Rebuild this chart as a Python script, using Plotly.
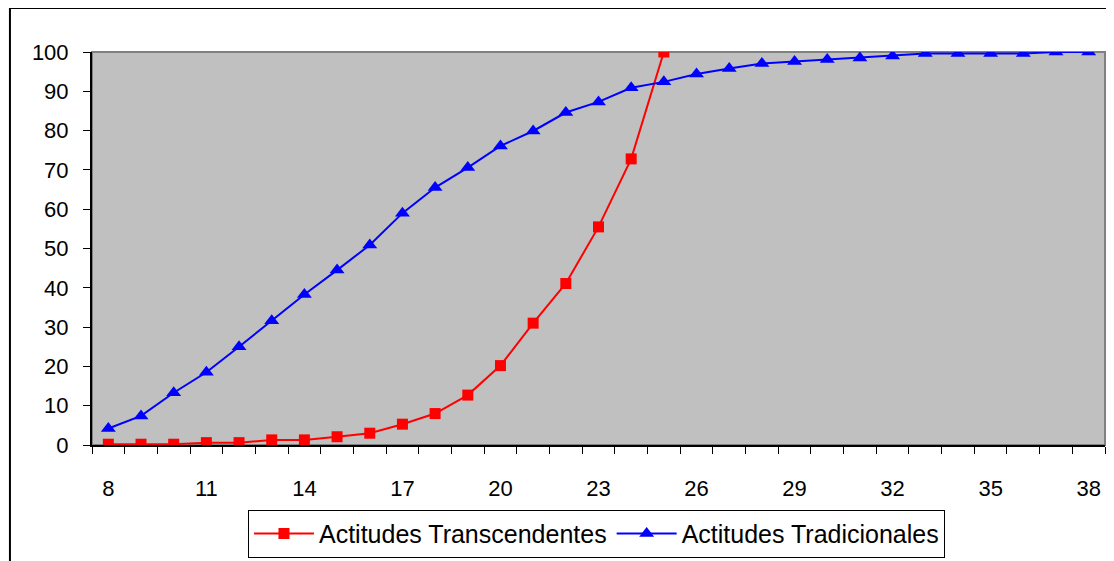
import plotly.graph_objects as go

categories = list(range(8, 39))
transcendentes = [0.2, 0.2, 0.2, 0.6, 0.6, 1.3, 1.3, 2.1, 3.0, 5.3, 8.0, 12.7,
                  20.2, 31.0, 41.1, 55.5, 72.8, 100.0]
tradicionales = [4.2, 7.4, 13.3, 18.5, 25.0, 31.6, 38.3, 44.5, 50.9, 59.0, 65.5,
                 70.6, 76.1, 79.9, 84.6, 87.3, 90.9, 92.4, 94.4, 95.8, 97.1, 97.6,
                 98.1, 98.5, 99.0, 99.6, 99.6, 99.6, 99.6, 100.0, 100.0]
x_tick_labels = [str(v) for v in range(8, 39, 3)]
y_tick_vals = list(range(0, 101, 10))

FONT = "Liberation Sans, Arial, sans-serif"

fig = go.Figure()
fig.add_trace(go.Scatter(
    x=categories[:len(transcendentes)], y=transcendentes,
    mode="lines+markers", name="Actitudes Transcendentes",
    line=dict(color="#FF0000", width=2),
    marker=dict(symbol="square", size=11, color="#FF0000"),
))
fig.add_trace(go.Scatter(
    x=categories[:len(tradicionales)], y=tradicionales,
    mode="lines+markers", name="Actitudes Tradicionales",
    line=dict(color="#0000FF", width=2),
    marker=dict(symbol="triangle-up", size=13, color="#0000FF"),
))

# page body has an 8px margin, so the figure is offset by 8px
fig.update_layout(
    width=1106, height=553,
    margin=dict(l=84, r=9, t=44, b=116, autoexpand=False),
    paper_bgcolor="white",
    plot_bgcolor="#C0C0C0",
    font=dict(family=FONT, size=22, color="black"),
    showlegend=True,
    legend=dict(
        orientation="h", x=0.498, xanchor="center", y=-0.165, yanchor="top",
        bordercolor="black", borderwidth=1, bgcolor="white",
        font=dict(family=FONT, size=25, color="black"),
        itemwidth=60, tracegroupgap=0,
    ),
    xaxis=dict(
        range=[7.5, 38.5],
        tickmode="array", tickvals=[int(v) for v in x_tick_labels], ticktext=x_tick_labels,
        ticks="outside", ticklen=0, tickcolor="black",
        ticklabelstandoff=23, automargin=False,
        minor=dict(ticks="outside", tick0=7.5, dtick=1, ticklen=7, tickcolor="black", showgrid=False),
        showgrid=False, zeroline=False,
        showline=True, linecolor="black", linewidth=2, mirror=False,
        fixedrange=True,
    ),
    yaxis=dict(
        range=[0, 100],
        tickmode="array", tickvals=y_tick_vals,
        ticks="outside", ticklen=7, tickcolor="black",
        ticklabelstandoff=10, automargin=False,
        showgrid=False, zeroline=False,
        showline=True, linecolor="black", linewidth=2,
        fixedrange=True,
    ),
    shapes=[
        dict(type="rect", xref="paper", yref="paper", x0=0, x1=1, y0=0, y1=1,
             line=dict(color="#808080", width=2), layer="below"),
        dict(type="rect", xref="paper", yref="paper", x0=-0.081, x1=1.3, y0=-0.6, y1=1.112,
             line=dict(color="black", width=2), fillcolor="rgba(0,0,0,0)"),
    ],
)

fig.write_html("out.html")
